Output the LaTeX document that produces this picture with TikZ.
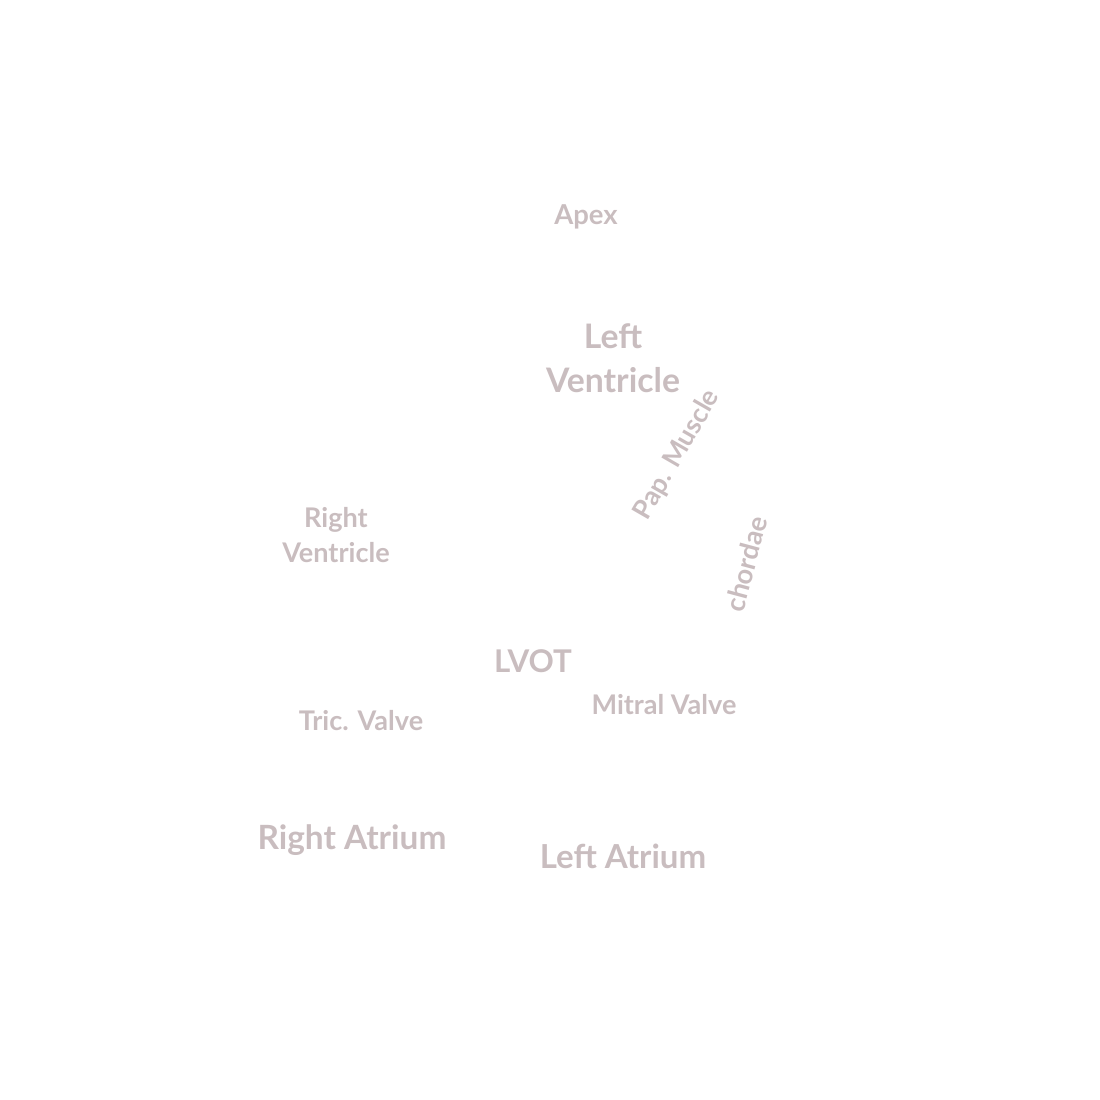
\documentclass[tikz,border=0pt]{standalone}
\usepackage{fontspec}
\setmainfont{Lato}
\usepackage{xcolor}
\definecolor{labelgray}{HTML}{C9BDBF}
\usetikzlibrary{positioning}

\begin{document}
\begin{tikzpicture}[x=0.01cm, y=-0.01cm,
    lbl/.style={text=labelgray, align=center, inner sep=0pt,
                font=\bfseries},
    big/.style={lbl, font=\fontsize{9.6}{12.5}\selectfont\bfseries},
    small/.style={lbl, font=\fontsize{7.7}{10.2}\selectfont\bfseries}
  ]
    \useasboundingbox (0,0) rectangle (1100,1100);
    % chambers
    \node[big]   (lv)  at (613,358) {Left\\Ventricle};
    \node[small] (rv)  at (336,535) {Right\\Ventricle};
    \node[big, font=\fontsize{9.5}{12}\selectfont\bfseries]   (ra)  at (352,840) {Right Atrium};
    \node[big, font=\fontsize{9.4}{12}\selectfont\bfseries]   (la)  at (623,856) {Left Atrium};
    % landmarks
    \node[small, font=\fontsize{7.8}{9}\selectfont\bfseries] (apex) at (586,217) {Apex};
    \node[big, font=\fontsize{8.9}{10}\selectfont\bfseries]  (lvot) at (533,661) {LVOT};
    \node[small] (mitral) at (664,705) {Mitral Valve};
    \node[small] (tric)   at (361,721) {Tric. Valve};
    \node[small, rotate=60, font=\fontsize{7.6}{9}\selectfont\bfseries] (pap) at (677,455) {Pap. Muscle};
    \node[small, rotate=75, font=\fontsize{7.7}{9}\selectfont\bfseries] (chordae) at (746,564) {chordae};
  \end{tikzpicture}
\end{document}
